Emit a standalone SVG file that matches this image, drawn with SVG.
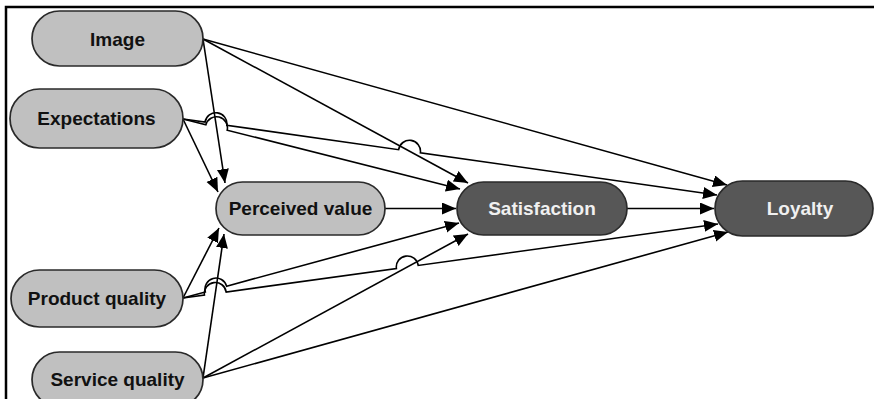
<svg xmlns="http://www.w3.org/2000/svg" width="874" height="399" viewBox="0 0 874 399">
<defs>
<marker id="ah" markerWidth="16" markerHeight="14" refX="14" refY="6" orient="auto" markerUnits="userSpaceOnUse"><path d="M0,0 L14,6 L0,12 z" fill="#000"/></marker>
<style>
.light rect{fill:#c0c0c0;stroke:#2a2a2a;stroke-width:1.7}
.dark rect{fill:#575757;stroke:#2a2a2a;stroke-width:1.7}
text{font-family:"Liberation Sans",Arial,sans-serif;font-weight:bold;font-size:19px;text-anchor:middle}
.light text{fill:#111}
.dark text{fill:#f0f0f0}
.c path{fill:none;stroke:#000;stroke-width:1.6;marker-end:url(#ah)}
</style>
</defs>
<rect width="874" height="399" fill="#fff"/>
<path d="M6,399 V7 H874" fill="none" stroke="#000" stroke-width="2.5"/>
<g class="c" id="connectors">
<path d="M203,39 L225,183"/>
<path d="M203,39 L468,183"/>
<path d="M203,39 L727,185"/>
<path d="M183,119 L218,192"/>
<path d="M183,119 L205.86,124.77 A11 11 0 0 1 227.18,130.17 L460,189"/>
<path d="M183,119 L205.05,122.14 A11 11 0 0 1 226.83,125.24 L398.61,149.68 A11 11 0 0 1 420.39,152.78 L717,195"/>
<path d="M385,208.5 L456,208.5"/>
<path d="M627,208.5 L714,208.5"/>
<path d="M183,298 L219,228"/>
<path d="M183,298 L205.35,291.92 A11 11 0 0 1 226.59,286.16 L459,223"/>
<path d="M183,298 L204.42,295.04 A11 11 0 0 1 226.22,292.02 L396.4,268.49 A11 11 0 0 1 418.2,265.47 L718,224"/>
<path d="M203,378 L224,234"/>
<path d="M203,378 L468,234"/>
<path d="M203,378 L728,232"/>
</g>
<g id="image" class="light"><rect x="32" y="11" width="171" height="55" rx="27.5"/><text x="117.5" y="45.5">Image</text></g>
<g id="expectations" class="light"><rect x="10" y="89" width="173" height="59" rx="29.5"/><text x="96.5" y="125">Expectations</text></g>
<g id="perceived-value" class="light"><rect x="216" y="182" width="169" height="53" rx="26.5"/><text x="300.5" y="215">Perceived value</text></g>
<g id="satisfaction" class="dark"><rect x="457" y="182" width="170" height="53" rx="26.5"/><text x="542" y="215">Satisfaction</text></g>
<g id="loyalty" class="dark"><rect x="715" y="181" width="158" height="55" rx="27.5"/><text x="800" y="215">Loyalty</text></g>
<g id="product-quality" class="light"><rect x="11" y="270" width="172" height="57" rx="28.5"/><text x="97" y="305">Product quality</text></g>
<g id="service-quality" class="light"><rect x="32" y="352" width="171" height="55" rx="27.5"/><text x="117.5" y="385.5">Service quality</text></g>
</svg>
